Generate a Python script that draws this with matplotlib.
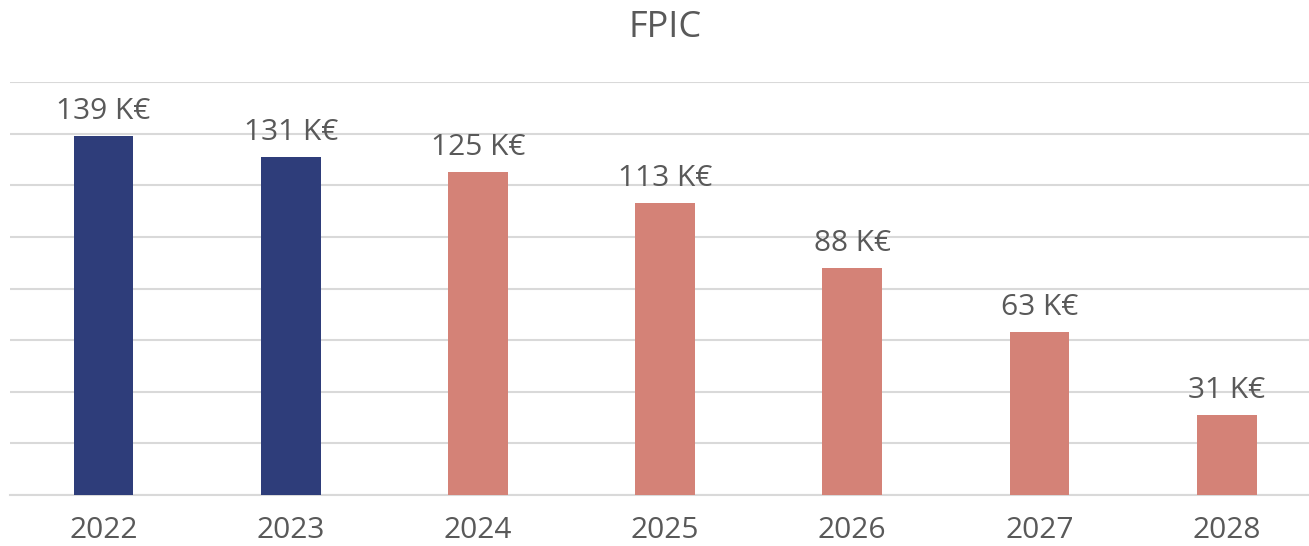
import matplotlib
matplotlib.use("Agg")
import matplotlib.pyplot as plt

plt.rcParams['font.family'] = ['Open Sans', 'DejaVu Sans']

years = ['2022', '2023', '2024', '2025', '2026', '2027', '2028']
values = [139, 131, 125, 113, 88, 63, 31]
labels = ['139 K€', '131 K€', '125 K€', '113 K€', '88 K€', '63 K€', '31 K€']
colors = ['#2e3d7a', '#2e3d7a', '#d48277', '#d48277', '#d48277', '#d48277', '#d48277']

text_col = '#595959'

fig = plt.figure(figsize=(13.09, 5.46), dpi=100)
ax = fig.add_axes([0.0076, 0.0934, 0.9924, 0.7564])

x = range(len(years))
ax.bar(x, values, width=0.32, color=colors, zorder=3)

for i, v in enumerate(values):
    ax.text(i, v + 4, labels[i], ha='center', va='bottom', fontsize=21.5, color=text_col)

ax.set_ylim(0, 160)
ax.set_xlim(-0.5, 6.44)
ax.set_yticks(range(0, 161, 20))
ax.yaxis.grid(True, color='#d9d9d9', linewidth=1.5, zorder=0)
ax.tick_params(axis='y', left=False, labelleft=False)
ax.tick_params(axis='x', length=0, labelsize=21.5, labelcolor=text_col, pad=15)
ax.set_xticks(list(x))
ax.set_xticklabels(years)
for s in ['top', 'right', 'left']:
    ax.spines[s].set_visible(False)
ax.spines['bottom'].set_color('#d9d9d9')
ax.spines['bottom'].set_linewidth(1.5)

fig.text(0.508, 0.948, 'FPIC', ha='center', va='center', fontsize=26, color=text_col)

fig.savefig('out.png', dpi=100)
